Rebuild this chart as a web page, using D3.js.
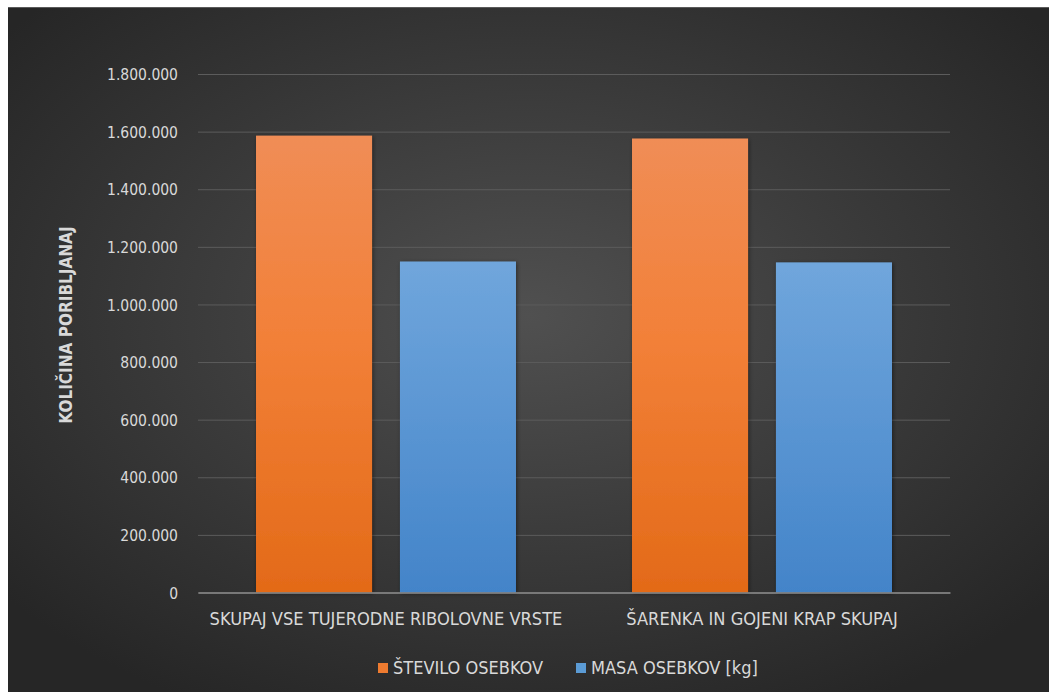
<!DOCTYPE html>
<html>
<head>
<meta charset="utf-8">
<script src="https://cdn.jsdelivr.net/npm/d3@7"></script>
<style>
body { margin: 0; background: #fff; }
svg text { font-family: "DejaVu Sans Condensed", "Liberation Sans Narrow", sans-serif; }
</style>
</head>
<body>
<div id="grafica"></div>
<script>
// podatki
var kategorije = ["SKUPAJ VSE TUJERODNE RIBOLOVNE VRSTE", "ŠARENKA IN GOJENI KRAP SKUPAJ"];
var serije = ["ŠTEVILO OSEBKOV", "MASA OSEBKOV [kg]"];
var stevilo = [1586000, 1576000];
var masa = [1149000, 1146000];
var tickVals = [0, 200000, 400000, 600000, 800000, 1000000, 1200000, 1400000, 1600000, 1800000];

var W = 1049, H = 692;
var svg = d3.select("#grafica")
	.append("svg")
	.attr("width", W)
	.attr("height", H);

var defs = svg.append("defs");
var bg = defs.append("radialGradient").attr("id", "bg")
	.attr("cx", "50%").attr("cy", "45%").attr("r", "65%");
bg.append("stop").attr("offset", "0%").attr("stop-color", "#505050");
bg.append("stop").attr("offset", "100%").attr("stop-color", "#262626");

var gOr = defs.append("linearGradient").attr("id", "gOr").attr("x1", 0).attr("y1", 0).attr("x2", 0).attr("y2", 1);
gOr.append("stop").attr("offset", "0%").attr("stop-color", "#f08d56");
gOr.append("stop").attr("offset", "45%").attr("stop-color", "#f28038");
gOr.append("stop").attr("offset", "100%").attr("stop-color", "#e36a18");
var gBl = defs.append("linearGradient").attr("id", "gBl").attr("x1", 0).attr("y1", 0).attr("x2", 0).attr("y2", 1);
gBl.append("stop").attr("offset", "0%").attr("stop-color", "#70a6dc");
gBl.append("stop").attr("offset", "100%").attr("stop-color", "#4384c9");

var sh = defs.append("filter").attr("id", "sh").attr("x", "-10%").attr("y", "-10%").attr("width", "130%").attr("height", "130%");
sh.append("feDropShadow").attr("dx", 1).attr("dy", 1).attr("stdDeviation", 2).attr("flood-color", "#000").attr("flood-opacity", 0.45);

// ozadje
svg.append("rect").attr("x", 8).attr("y", 7).attr("width", W - 8).attr("height", H - 7).attr("fill", "url(#bg)");
svg.append("line").attr("x1", 8).attr("x2", W).attr("y1", 7.5).attr("y2", 7.5).attr("stroke", "#5a5a5a");

var x0 = 198, x1 = 950, y0 = 592.5, y1 = 74;
var x = d3.scaleBand().domain(kategorije).range([x0, x1]);
var xs = d3.scaleBand().domain(serije).range([0, x.bandwidth()]).paddingOuter(0.403).paddingInner(0.194);
var y = d3.scaleLinear().domain([0, 1800000]).range([y0, y1]);

var fmt = function(d) { return d3.format(",")(d).replace(/,/g, "."); };

// mreža
var grid = svg.append("g").attr("transform", "translate(" + x0 + ",0)")
	.call(d3.axisLeft(y).tickValues(tickVals).tickSize(-(x1 - x0)).tickFormat(""));
grid.select(".domain").remove();
grid.selectAll("line").attr("stroke", "#5c5c5c").attr("stroke-width", 1);

// y os
var ya = svg.append("g").attr("transform", "translate(" + (x0 - 17) + ",0)")
	.call(d3.axisLeft(y).tickValues(tickVals).tickSize(0).tickFormat(fmt));
ya.select(".domain").remove();
ya.selectAll("text").attr("fill", "#d9d9d9").style("font-size", "15.5px").attr("dy", "0.36em");

// stolpci
var podatki = [];
kategorije.forEach(function(k, i) {
	podatki.push({ k: k, s: serije[0], v: stevilo[i], f: "url(#gOr)" });
	podatki.push({ k: k, s: serije[1], v: masa[i], f: "url(#gBl)" });
});
svg.append("g").selectAll("rect").data(podatki).enter().append("rect")
	.attr("x", function(d) { return x(d.k) + xs(d.s); })
	.attr("y", function(d) { return y(d.v); })
	.attr("width", xs.bandwidth())
	.attr("height", function(d) { return y0 - y(d.v); })
	.attr("fill", function(d) { return d.f; })
	.attr("filter", "url(#sh)");

// x os
var xa = svg.append("g").attr("transform", "translate(0," + y0 + ")")
	.call(d3.axisBottom(x).tickSize(0).tickPadding(0));
xa.select(".domain").attr("stroke", "#8a8a8a").attr("stroke-width", 1.3);
xa.selectAll("text").attr("fill", "#d9d9d9").style("font-size", "18.1px").attr("y", 32).attr("dy", 0);

// naslov osi
svg.append("text")
	.attr("transform", "translate(72,325) rotate(-90)")
	.attr("text-anchor", "middle")
	.attr("fill", "#d9d9d9")
	.style("font-size", "17px")
	.style("font-weight", "bold")
	.text("KOLIČINA PORIBLJANAJ");

// legenda
var leg = [{ t: serije[0], c: "#ee7b30", x: 378 }, { t: serije[1], c: "#5b9bd5", x: 576 }];
var lg = svg.append("g").selectAll("g").data(leg).enter().append("g");
lg.append("rect").attr("x", function(d) { return d.x; }).attr("y", 663).attr("width", 10).attr("height", 10).attr("fill", function(d) { return d.c; });
lg.append("text").attr("x", function(d) { return d.x + 15; }).attr("y", 674)
	.attr("fill", "#d9d9d9").style("font-size", "18px").text(function(d) { return d.t; });
</script>
</body>
</html>
